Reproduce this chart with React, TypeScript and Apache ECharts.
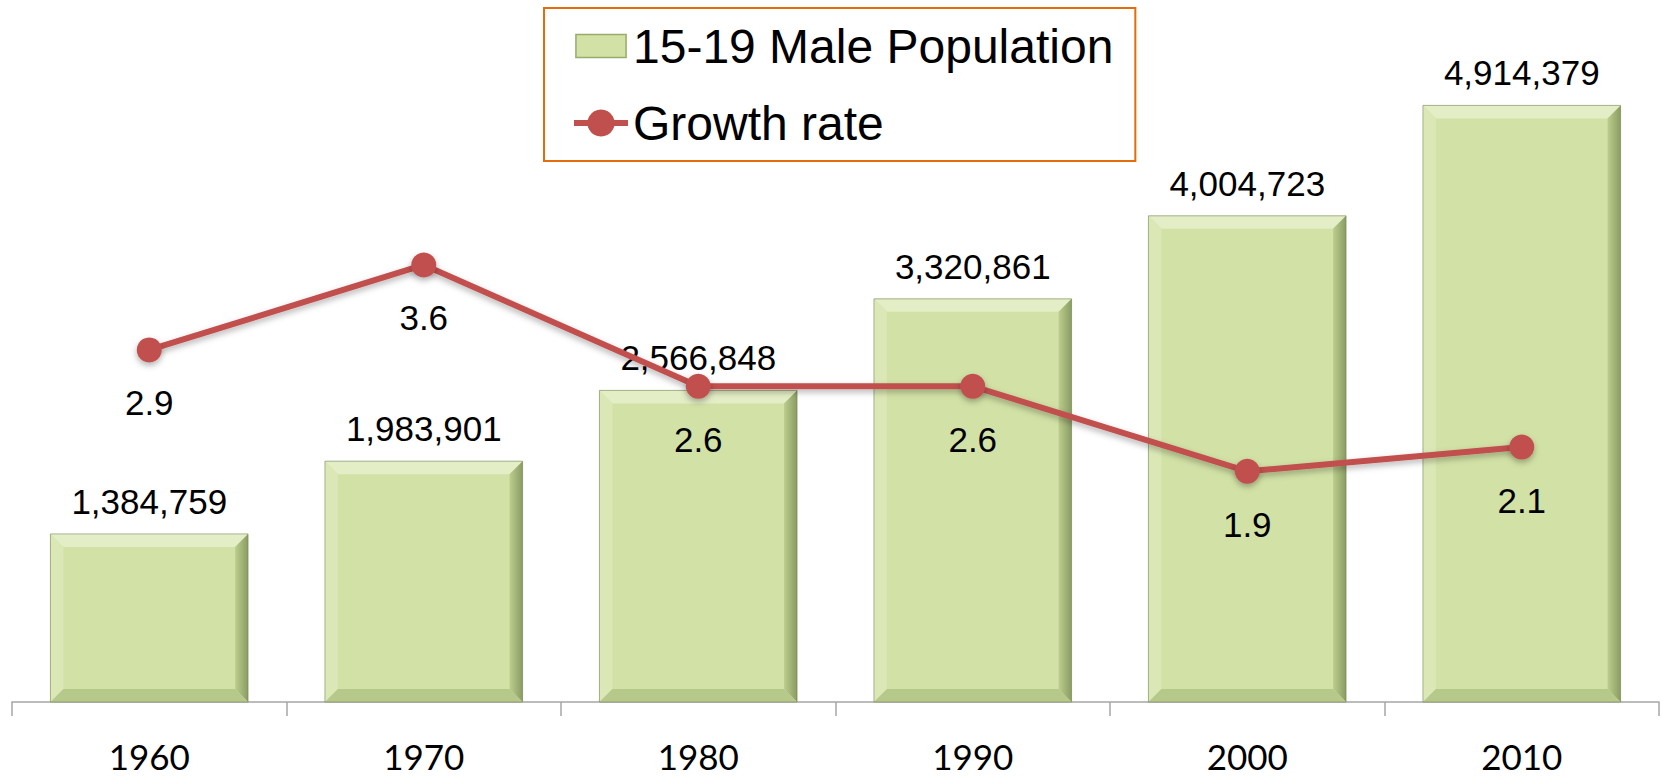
import React, { useEffect, useRef } from "react";
import * as echarts from "echarts";

const categories = ["1960", "1970", "1980", "1990", "2000", "2010"];
const population = [1384759, 1983901, 2566848, 3320861, 4004723, 4914379];
const growthRate = [2.9, 3.6, 2.6, 2.6, 1.9, 2.1];

const popName = "15-19 Male Population";
const rateName = "Growth rate";

const FONT = "'Liberation Sans', Arial, sans-serif";
const AXIS_FONT = "Lato, 'Liberation Sans', sans-serif";

const fmt = (v: number) => v.toLocaleString("en-US");

export default function App() {
  const ref = useRef<HTMLDivElement>(null);
  useEffect(() => {
    if (!ref.current) return;
    const chart = echarts.init(ref.current, null, { renderer: "svg" });

    const renderBar = (params: any, api: any) => {
      const idx = api.value(0);
      const val = api.value(1);
      const topPt = api.coord([idx, val]);
      const basePt = api.coord([idx, 0]);
      const bw = api.size([1, 0])[0] * 0.72;
      const l = topPt[0] - bw / 2;
      const r = l + bw;
      const t = topPt[1];
      const b = basePt[1];
      const bv = 13;
      return {
        type: "group",
        children: [
          { type: "rect", shape: { x: l, y: t, width: bw, height: b - t }, style: { fill: "#d2e2a6" } },
          { type: "polygon", shape: { points: [[l, t], [r, t], [r - bv, t + bv], [l + bv, t + bv]] }, style: { fill: "#e3edc6" } },
          { type: "polygon", shape: { points: [[l, t], [l + bv, t + bv], [l + bv, b - bv], [l, b]] }, style: { fill: "#dbe8b6" } },
          { type: "polygon", shape: { points: [[r, t], [r, b], [r - bv, b - bv], [r - bv, t + bv]] }, style: { fill: new echarts.graphic.LinearGradient(0, 0, 1, 0, [{ offset: 0, color: "#bccd8e" }, { offset: 1, color: "#8a9c62" }]) } },
          { type: "polygon", shape: { points: [[l, b], [r, b], [r - bv, b - bv], [l + bv, b - bv]] }, style: { fill: "#b7c98a" } },
          { type: "rect", shape: { x: l, y: t, width: bw, height: b - t }, style: { fill: "none", stroke: "rgba(110,125,80,0.55)", lineWidth: 1 } },
          {
            type: "text",
            x: topPt[0],
            y: t - 15,
            style: { text: fmt(val), fontSize: 35, fontFamily: FONT, fill: "#000", align: "center", verticalAlign: "bottom" },
          },
        ],
      };
    };

    chart.setOption({
      animation: false,
      backgroundColor: "#ffffff",
      grid: { left: 12, right: 3, top: 95, bottom: 74, containLabel: false },
      legend: {
        orient: "vertical",
        left: 544,
        top: 8,
        padding: [14, 22, 14, 27],
        itemGap: 29,
        itemWidth: 54,
        itemHeight: 34,
        borderColor: "#E46C0A",
        borderWidth: 2,
        textStyle: { fontSize: 48, fontFamily: FONT, color: "#000" },
        data: [
          {
            name: popName,
            icon: "path://M0,0 M56,34 M2,5 L54,5 L54,29 L2,29 Z",
            itemStyle: { color: "#d2e2a6", borderColor: "#98ab6a", borderWidth: 1.5 },
          },
          { name: rateName, lineStyle: { width: 6, color: "#C0504D" } },
        ],
      },
      xAxis: {
        type: "category",
        data: categories,
        axisLine: { lineStyle: { color: "#a6a6a6", width: 1.5 } },
        axisTick: { show: true, length: 14, lineStyle: { color: "#a6a6a6", width: 1.5 } },
        axisLabel: { fontSize: 35, lineHeight: 34, fontFamily: AXIS_FONT, color: "#000", margin: 37 },
      },
      yAxis: [
        { type: "value", min: 0, max: 5000000, show: false, splitLine: { show: false } },
        { type: "value", min: 0, max: 5, show: false, splitLine: { show: false } },
      ],
      series: [
        {
          type: "custom",
          name: popName,
          renderItem: renderBar,
          itemStyle: { color: "#d2e2a6" },
          data: population.map((v, i) => [i, v]),
          encode: { x: 0, y: 1 },
          z: 2,
        },
        {
          type: "line",
          name: rateName,
          yAxisIndex: 1,
          data: growthRate,
          symbol: "circle",
          symbolSize: 25,
          color: "#C0504D",
          lineStyle: { width: 6, color: "#C0504D", shadowColor: "rgba(0,0,0,0.3)", shadowBlur: 6, shadowOffsetY: 3 },
          itemStyle: { color: "#C0504D", shadowColor: "rgba(0,0,0,0.3)", shadowBlur: 6, shadowOffsetY: 3 },
          label: { show: true, position: "bottom", distance: 23, fontSize: 35, fontFamily: FONT, color: "#000", formatter: (p: any) => p.value.toFixed(1) },
          z: 5,
        },
      ],
    });
    return () => chart.dispose();
  }, []);
  return <div ref={ref} style={{ position: "absolute", left: 0, top: 0, width: 1662, height: 776 }} />;
}
